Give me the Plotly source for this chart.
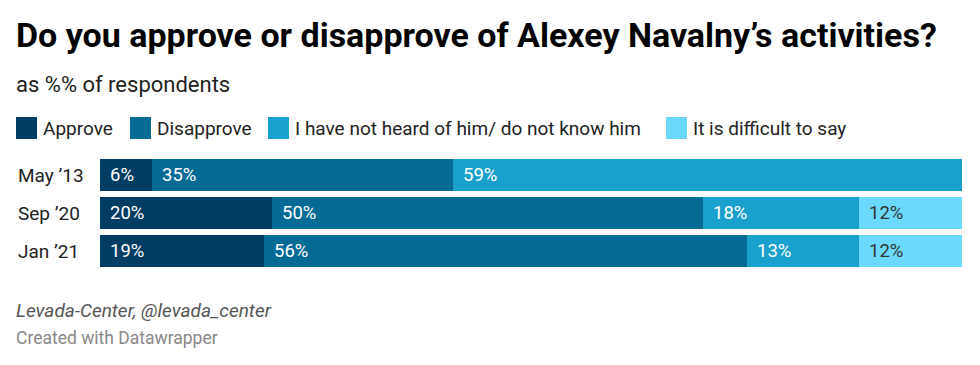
import plotly.graph_objects as go

categories = ["May ’13", "Sep ’20", "Jan ’21"]
series_names = ["Approve", "Disapprove", "I have not heard of him/ do not know him", "It is difficult to say"]
approve = [6, 20, 19]
disapprove = [35, 50, 56]
not_heard = [59, 18, 13]
difficult = [0, 12, 12]
series_values = [approve, disapprove, not_heard, difficult]
colors = ["#003d62", "#036b94", "#1aa0cc", "#6bd8fe"]
label_colors = ["#ffffff", "#ffffff", "#ffffff", "#333333"]

W, H = 980, 365
L, R, T, B = 100, 18, 156, 95
pw = W - L - R
ph = H - T - B

def px_x(px):
    return (px - L) / pw

def px_y(py):
    return 1 - (py - T) / ph

fig = go.Figure()
for name, vals, col in zip(series_names, series_values, colors):
    fig.add_trace(go.Bar(
        y=categories, x=vals, name=name, orientation="h",
        marker=dict(color=col, line=dict(width=0)),
        showlegend=False, hoverinfo="x+name",
    ))

annotations = []
# value labels
for i, cat in enumerate(categories):
    start = 0
    for s, vals in enumerate(series_values):
        v = vals[i]
        if v > 0:
            annotations.append(dict(
                x=start, y=cat, xref="x", yref="y", text=f"{v}%",
                xanchor="left", yanchor="middle", xshift=8, showarrow=False,
                font=dict(family="Roboto", size=18.5, color=label_colors[s]),
            ))
        start += v
# category labels
for cat in categories:
    annotations.append(dict(
        x=px_x(16), y=cat, xref="paper", yref="y", text=cat,
        xanchor="left", yanchor="middle", showarrow=False,
        font=dict(family="Roboto", size=19, color="#222222"),
    ))

# title, subtitle
annotations.append(dict(
    x=px_x(14), y=px_y(35), xref="paper", yref="paper",
    text="<b>Do you approve or disapprove of Alexey Navalny’s activities?</b>",
    xanchor="left", yanchor="middle", showarrow=False,
    font=dict(family="Roboto", size=34, color="#000000"),
))
annotations.append(dict(
    x=px_x(14), y=px_y(84), xref="paper", yref="paper",
    text="as %% of respondents",
    xanchor="left", yanchor="middle", showarrow=False,
    font=dict(family="Roboto", size=22, color="#222222"),
))

# legend
shapes = []
legend_x = [16, 130, 268, 666]
for name, col, lx in zip(series_names, colors, legend_x):
    shapes.append(dict(
        type="rect", xref="paper", yref="paper",
        x0=px_x(lx), x1=px_x(lx + 21), y0=px_y(117), y1=px_y(139),
        fillcolor=col, line=dict(width=0),
    ))
    annotations.append(dict(
        x=px_x(lx + 25), y=px_y(128), xref="paper", yref="paper", text=name,
        xanchor="left", yanchor="middle", showarrow=False,
        font=dict(family="Roboto", size=19, color="#222222"),
    ))

# footer
annotations.append(dict(
    x=px_x(14), y=px_y(310), xref="paper", yref="paper",
    text="<i>Levada-Center, @levada_center</i>",
    xanchor="left", yanchor="middle", showarrow=False,
    font=dict(family="Roboto", size=19, color="#555555"),
))
annotations.append(dict(
    x=px_x(14), y=px_y(338), xref="paper", yref="paper",
    text="Created with Datawrapper",
    xanchor="left", yanchor="middle", showarrow=False,
    font=dict(family="Roboto", size=17.5, color="#888888"),
))

fig.update_layout(
    width=W, height=H,
    margin=dict(l=L, r=R, t=T, b=B, pad=0),
    barmode="stack", bargap=6 / 38,
    paper_bgcolor="#ffffff", plot_bgcolor="#ffffff",
    xaxis=dict(range=[0, 100], visible=False, fixedrange=True),
    yaxis=dict(autorange="reversed", visible=False, fixedrange=True),
    annotations=annotations, shapes=shapes,
    font=dict(family="Roboto"),
)

fig.write_html("out.html", config={"displayModeBar": False})
